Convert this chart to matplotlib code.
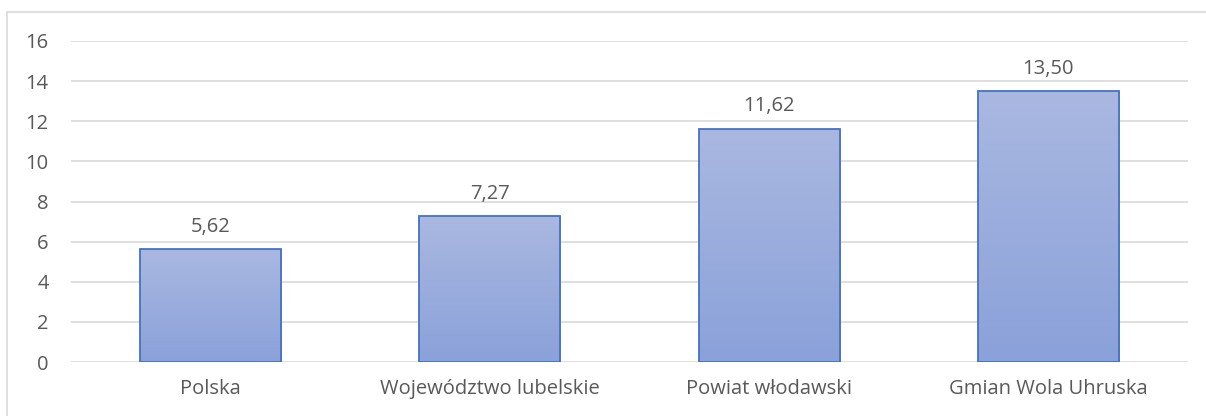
import numpy as np
import matplotlib
matplotlib.use("Agg")
import matplotlib.pyplot as plt
from matplotlib.colors import LinearSegmentedColormap
from matplotlib.patches import Rectangle

categories = ["Polska", "Województwo lubelskie", "Powiat włodawski", "Gmian Wola Uhruska"]
values = [5.62, 7.27, 11.62, 13.50]
labels = ["5,62", "7,27", "11,62", "13,50"]
y_ticks = [0, 2, 4, 6, 8, 10, 12, 14, 16]

text_color = "#595959"
grid_color = "#D9D9D9"
edge_color = "#4472C4"

plt.rcParams['font.family'] = ['Open Sans', 'DejaVu Sans']

fig = plt.figure(figsize=(12.06, 4.16), dpi=100)
ax = fig.add_axes([71 / 1206, 1 - 362 / 416, (1188 - 71) / 1206, (362 - 41) / 416])

# outer chart border (only top and left edges are visible in the crop)
fig.patches.append(Rectangle((7 / 1206, -0.1), 1.5, 1 - 12 / 416 + 0.1,
                             transform=fig.transFigure, fill=False,
                             edgecolor=grid_color, linewidth=1.2, zorder=0))

x = np.arange(len(categories))
width = 0.505
bars = ax.bar(x, values, width=width, facecolor="none", edgecolor=edge_color,
              linewidth=1.3, zorder=3)

# vertical gradient inside each bar, darker at the base
cmap = LinearSegmentedColormap.from_list("grad", ["#8AA1D9", "#AAB8E1"])
grad = np.linspace(0, 1, 256).reshape(-1, 1)
for b in bars:
    x0, w, h = b.get_x(), b.get_width(), b.get_height()
    im = ax.imshow(grad, cmap=cmap, aspect="auto", origin="lower",
                   extent=[x0, x0 + w, 0, h], zorder=2)
    im.set_clip_path(b)

for xi, v, lab in zip(x, values, labels):
    ax.annotate(lab, (xi, v), xytext=(0, 9), textcoords="offset points",
                ha="center", va="bottom", fontsize=14.5, color=text_color)

ax.set_xlim(-0.5, len(categories) - 0.5)
ax.set_ylim(0, 16)
ax.set_yticks(y_ticks)
ax.set_xticks(x)
ax.set_xticklabels(categories)
ax.tick_params(axis="both", length=0, labelsize=14.5, labelcolor=text_color)
ax.tick_params(axis="y", pad=16)
ax.tick_params(axis="x", pad=12)
ax.yaxis.grid(True, color=grid_color, linewidth=1.2)
ax.set_axisbelow(True)
for s in ax.spines.values():
    s.set_visible(False)

fig.savefig("out.png", dpi=100)
